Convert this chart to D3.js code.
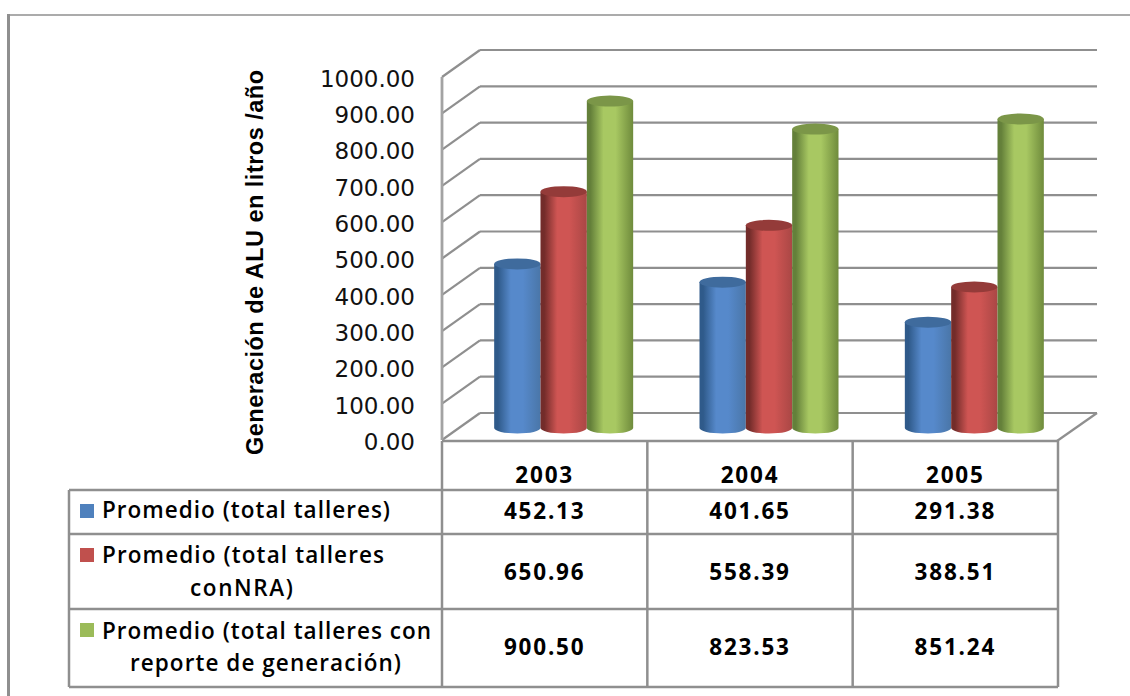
<!DOCTYPE html>
<html lang="es">
<head>
<meta charset="utf-8">
<title>Generación de ALU</title>
<script src="https://cdn.jsdelivr.net/npm/d3@7"></script>
<style>
  html, body { margin: 0; padding: 0; background: #fff; }
  svg { display: block; }
</style>
</head>
<body>
<svg id="chart" width="1130" height="696"></svg>
<script>
// Table and chart values
const years = ["2003", "2004", "2005"];
const totalTalleres = [452.13, 401.65, 291.38];
const talleresConNRA = [650.96, 558.39, 388.51];
const talleresConReporte = [900.50, 823.53, 851.24];
const seriesKeys = ["total", "nra", "reporte"];
const seriesValues = [totalTalleres, talleresConNRA, talleresConReporte];
const seriesLabels = [
  ["Promedio (total  talleres)"],
  ["Promedio (total  talleres", "conNRA)"],
  ["Promedio (total  talleres con", "reporte de generación)"]
];
const yTicks = [0, 100, 200, 300, 400, 500, 600, 700, 800, 900, 1000];
const yTitle = "Generación de ALU  en litros /año";

// Swatch colour, then cylinder shading: dark edge, highlight, right edge, cap
const swatchColors = ["#4f81bd", "#c0504d", "#9bbb59"];
const shading = [
  ["#2f5a8a", "#5689cb", "#4a76a8", "#3f6b9d"],
  ["#732c2a", "#cf5553", "#aa4745", "#943b39"],
  ["#64803a", "#a8c862", "#6f8b3c", "#7b9648"]
];

const GRID = "#8f8f8f";
const BODY_FONT = "'Open Sans', sans-serif";

const svg = d3.select("#chart");

// Pseudo-3D geometry: the back wall is the front plane shifted by this depth
const depthX = 38, depthY = -27;
const plotLeft = 442, plotRight = 1058;
const yFront = d3.scaleLinear().domain([0, 1000]).range([440, 77]);
const yBack = v => yFront(v) + depthY;
const xYear = d3.scaleBand().domain(years).range([plotLeft, plotRight]);
const barBandWidth = 139;
const xSeries = d3.scaleBand().domain(seriesKeys).range([-barBandWidth / 2, barBandWidth / 2]);
// Cylinders stand halfway between the front and back planes
const yBar = v => yFront(v) + depthY / 2 + 1.5;
const capRy = 5.5;

// Outer frame
svg.append("line").attr("x1", 8).attr("x2", 1130).attr("y1", 15).attr("y2", 15)
  .attr("stroke", GRID).attr("stroke-width", 1.5);
svg.append("line").attr("x1", 8.5).attr("x2", 8.5).attr("y1", 14).attr("y2", 696)
  .attr("stroke", GRID).attr("stroke-width", 3);

// Back wall gridlines and their diagonals on the side wall
const walls = svg.append("g").attr("fill", "none").attr("stroke", GRID).attr("stroke-width", 2.2);
walls.selectAll(".back").data(yTicks).join("line").attr("class", "back")
  .attr("x1", plotLeft + depthX).attr("x2", plotRight + depthX + 1)
  .attr("y1", d => yBack(d)).attr("y2", d => yBack(d));
walls.selectAll(".side").data(yTicks).join("line").attr("class", "side")
  .attr("x1", plotLeft).attr("x2", plotLeft + depthX)
  .attr("y1", d => yFront(d)).attr("y2", d => yBack(d));
walls.append("line")
  .attr("x1", plotRight - 1).attr("y1", yFront(0) + 1)
  .attr("x2", plotRight + depthX + 1).attr("y2", yBack(0));
walls.append("line").attr("x1", plotLeft).attr("x2", plotLeft)
  .attr("y1", yFront(1000)).attr("y2", yFront(0))
  .attr("stroke", "#a3a3a3").attr("stroke-width", 2.8);

// Value axis labels
const axis = d3.axisLeft(yFront).tickValues(yTicks).tickSize(0).tickPadding(0)
  .tickFormat(d3.format(".2f"));
const axisG = svg.append("g").attr("transform", "translate(415,2)").call(axis);
axisG.select(".domain").remove();
axisG.selectAll("text")
  .attr("font-family", "'DejaVu Sans', sans-serif")
  .attr("font-size", 23).attr("fill", "#111");

// Axis title
svg.append("text")
  .attr("transform", "translate(263,262.5) rotate(-90)")
  .attr("text-anchor", "middle")
  .attr("font-family", "'Liberation Sans', sans-serif")
  .attr("font-weight", 700).attr("font-size", 23.5).attr("fill", "#000")
  .attr("textLength", 385).attr("lengthAdjust", "spacing")
  .text(yTitle);

// Horizontal shading of each cylinder
const defs = svg.append("defs");
seriesKeys.forEach((key, i) => {
  const [edge, light, rightEdge] = shading[i];
  const grad = defs.append("linearGradient").attr("id", "cyl-" + key)
    .attr("x1", 0).attr("x2", 1).attr("y1", 0).attr("y2", 0);
  [[0, edge], [0.08, edge], [0.36, light], [0.62, light], [1, rightEdge]].forEach(([o, c]) =>
    grad.append("stop").attr("offset", o).attr("stop-color", c));
});

// Cylinders
const barsLayer = svg.append("g");
const bw = xSeries.bandwidth();
seriesKeys.forEach((key, s) => {
  years.forEach((year, i) => {
    const v = seriesValues[s][i];
    const cx = xYear(year) + xYear.bandwidth() / 2 + depthX / 2 + xSeries(key) + bw / 2;
    const top = yBar(v), base = yBar(0);
    const left = cx - bw / 2, right = cx + bw / 2;
    barsLayer.append("path")
      .attr("d", `M${left},${top}L${left},${base}A${bw / 2},${capRy} 0 0 0 ${right},${base}L${right},${top}Z`)
      .attr("fill", `url(#cyl-${key})`);
    barsLayer.append("ellipse")
      .attr("cx", cx).attr("cy", top).attr("rx", bw / 2).attr("ry", capRy)
      .attr("fill", shading[s][3]);
  });
});

// Data table: rules
const rowEdges = [441, 490, 534, 609, 687];
const colEdges = xYear.domain().map(d => xYear(d)).concat(plotRight);
const tableLeft = 69;
const rules = svg.append("g").attr("stroke", GRID).attr("stroke-width", 2.5);
rowEdges.forEach((y, i) => {
  rules.append("line").attr("x1", i === 0 ? plotLeft : tableLeft).attr("x2", plotRight)
    .attr("y1", y).attr("y2", y);
});
colEdges.forEach(x => {
  rules.append("line").attr("x1", x).attr("x2", x).attr("y1", rowEdges[0]).attr("y2", rowEdges[4]);
});
rules.append("line").attr("x1", tableLeft).attr("x2", tableLeft)
  .attr("y1", rowEdges[1]).attr("y2", rowEdges[4]);

// Data table: year headers and values
const cellText = svg.append("g")
  .attr("font-family", BODY_FONT).attr("font-weight", 700).attr("font-size", 22.5)
  .attr("letter-spacing", 1.8).attr("fill", "#000").attr("text-anchor", "middle");
const cx = d => xYear(d) + xYear.bandwidth() / 2;
years.forEach(year => {
  cellText.append("text").attr("x", cx(year)).attr("y", 483).text(year);
});
const rowMiddles = [511, 572, 647];
seriesValues.forEach((vals, r) => {
  vals.forEach((v, c) => {
    cellText.append("text").attr("x", cx(years[c])).attr("y", rowMiddles[r]).attr("dy", "0.36em")
      .text(d3.format(".2f")(v));
  });
});

// Data table: series keys
const legendSwatchY = [504, 548, 623];
const legendBaselines = [[518], [563, 596], [639, 671]];
const legendX = [[102], [102, 190], [102, 130]];
const legendLineWidths = [[288], [282, 103], [329, 271]];
const legend = svg.append("g")
  .attr("font-family", BODY_FONT).attr("font-weight", 600).attr("font-size", 22.5).attr("fill", "#000");
seriesLabels.forEach((lines, r) => {
  legend.append("rect").attr("x", 80).attr("y", legendSwatchY[r]).attr("width", 14).attr("height", 14)
    .attr("fill", swatchColors[r]);
  lines.forEach((line, l) => {
    legend.append("text")
      .attr("x", legendX[r][l]).attr("y", legendBaselines[r][l])
      .attr("textLength", legendLineWidths[r][l]).attr("lengthAdjust", "spacing")
      .text(line);
  });
});
</script>
</body>
</html>
